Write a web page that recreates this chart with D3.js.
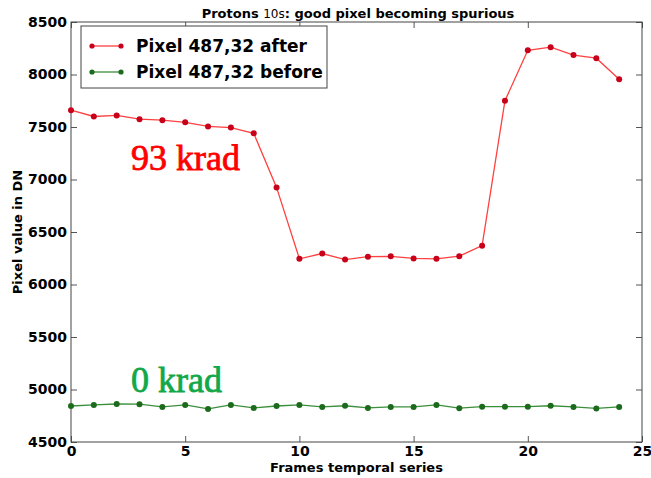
<!DOCTYPE html>
<html>
<head>
<meta charset="utf-8">
<script src="https://cdn.jsdelivr.net/npm/d3@7"></script>
<style>
  html, body { margin: 0; padding: 0; background: #fff; }
  svg { display: block; }
  .tick text { font-family: "DejaVu Sans", sans-serif; font-weight: bold; font-size: 14px; fill: #000; }
</style>
</head>
<body>
<svg id="chart" width="651" height="478"></svg>
<script>
// Frame index along the temporal series
const frames = d3.range(0, 25);

// Pixel 487,32 after irradiation (93 krad)
const afterValues = [7660, 7600, 7610, 7575, 7565, 7545, 7505, 7495, 7440, 6925,
                     6245, 6295, 6237, 6265, 6268, 6248, 6245, 6270, 6370, 7750,
                     8230, 8260, 8185, 8155, 7955];

// Pixel 487,32 before irradiation (0 krad)
const beforeValues = [4843, 4853, 4862, 4860, 4834, 4853, 4815, 4853, 4825, 4843,
                      4853, 4834, 4845, 4825, 4834, 4834, 4853, 4822, 4836, 4836,
                      4836, 4845, 4834, 4820, 4834];

const xTicks = [0, 5, 10, 15, 20, 25];
const yTicks = [4500, 5000, 5500, 6000, 6500, 7000, 7500, 8000, 8500];

const seriesNames = ["Pixel 487,32 after", "Pixel 487,32 before"];
const seriesColors = ["#ff4040", "#3a8f3a"];
const markerColors = ["#c8001a", "#1c6b1c"];

const svg = d3.select("#chart");
const x = d3.scaleLinear().domain([0, 25]).range([71, 642]);
const y = d3.scaleLinear().domain([4500, 8500]).range([442, 22]);

const x0 = x(0), x1 = x(25), y0 = y(4500), y1 = y(8500);

// Axes with inward ticks on all four sides
svg.append("g")
  .attr("transform", `translate(0,${y0})`)
  .call(d3.axisBottom(x).tickValues(xTicks).tickSize(-6).tickPadding(6).tickFormat(d3.format("d")))
  .call(g => g.select(".domain").remove())
  .call(g => g.selectAll(".tick line").attr("stroke", "#555"))
  .call(g => g.selectAll(".tick text").attr("dy", "0.55em"));

svg.append("g")
  .attr("transform", `translate(0,${y1})`)
  .call(d3.axisTop(x).tickValues(xTicks).tickSize(-6).tickFormat(""))
  .call(g => g.select(".domain").remove())
  .call(g => g.selectAll(".tick line").attr("stroke", "#555"));

svg.append("g")
  .attr("transform", `translate(${x0},0)`)
  .call(d3.axisLeft(y).tickValues(yTicks).tickSize(-6).tickPadding(4).tickFormat(d3.format("d")))
  .call(g => g.select(".domain").remove())
  .call(g => g.selectAll(".tick line").attr("stroke", "#555"));

svg.append("g")
  .attr("transform", `translate(${x1},0)`)
  .call(d3.axisRight(y).tickValues(yTicks).tickSize(-6).tickFormat(""))
  .call(g => g.select(".domain").remove())
  .call(g => g.selectAll(".tick line").attr("stroke", "#555"));

// Plot frame
svg.append("rect")
  .attr("x", x0).attr("y", y1)
  .attr("width", x1 - x0).attr("height", y0 - y1)
  .attr("fill", "none").attr("stroke", "#444").attr("stroke-width", 1);

// Series lines and markers
const seriesData = [afterValues, beforeValues];
const line = d3.line().x((d, i) => x(frames[i])).y(d => y(d));

seriesData.forEach((vals, k) => {
  svg.append("path")
    .datum(vals)
    .attr("d", line)
    .attr("fill", "none")
    .attr("stroke", seriesColors[k])
    .attr("stroke-width", 1.3);
  svg.append("g").selectAll("circle")
    .data(vals)
    .join("circle")
    .attr("cx", (d, i) => x(frames[i]))
    .attr("cy", d => y(d))
    .attr("r", 3)
    .attr("fill", markerColors[k]);
});

// Title with a lighter "10s"
const title = svg.append("text")
  .attr("x", 358).attr("y", 18)
  .attr("text-anchor", "middle")
  .attr("font-family", "DejaVu Sans, sans-serif")
  .attr("font-size", 13)
  .attr("font-weight", "bold");
title.append("tspan").text("Protons ");
title.append("tspan").attr("font-weight", "normal").attr("font-size", 12).text("10s");
title.append("tspan").text(": good pixel becoming spurious");

// Axis labels
svg.append("text")
  .attr("x", (x0 + x1) / 2).attr("y", 472)
  .attr("text-anchor", "middle")
  .attr("font-family", "DejaVu Sans, sans-serif")
  .attr("font-size", 13).attr("font-weight", "bold")
  .text("Frames temporal series");

svg.append("text")
  .attr("transform", `translate(22,${(y0 + y1) / 2}) rotate(-90)`)
  .attr("text-anchor", "middle")
  .attr("font-family", "DejaVu Sans, sans-serif")
  .attr("font-size", 13).attr("font-weight", "bold")
  .text("Pixel value in DN");

// Legend
const legend = svg.append("g").attr("transform", "translate(81,26)");
legend.append("rect")
  .attr("width", 246).attr("height", 62)
  .attr("fill", "#fff").attr("stroke", "#444").attr("stroke-width", 1);
seriesNames.forEach((name, k) => {
  const ly = 20 + k * 26;
  legend.append("line")
    .attr("x1", 11).attr("x2", 40).attr("y1", ly).attr("y2", ly)
    .attr("stroke", seriesColors[k]).attr("stroke-width", 1.3);
  [11, 40].forEach(cx => legend.append("circle")
    .attr("cx", cx).attr("cy", ly).attr("r", 2.6).attr("fill", markerColors[k]));
  legend.append("text")
    .attr("x", 55).attr("y", ly + 6)
    .attr("font-family", "DejaVu Sans, sans-serif")
    .attr("font-size", 17).attr("font-weight", "bold")
    .text(name);
});

// Dose annotations
svg.append("text")
  .attr("x", 131).attr("y", 170)
  .attr("font-family", "Liberation Serif, serif")
  .attr("font-size", 36)
  .attr("fill", "#ff0000")
  .attr("stroke", "#ff0000").attr("stroke-width", 0.8)
  .text("93 krad");

svg.append("text")
  .attr("x", 131).attr("y", 392)
  .attr("font-family", "Liberation Serif, serif")
  .attr("font-size", 36)
  .attr("fill", "#12a84a")
  .attr("stroke", "#12a84a").attr("stroke-width", 0.8)
  .text("0 krad");
</script>
</body>
</html>
